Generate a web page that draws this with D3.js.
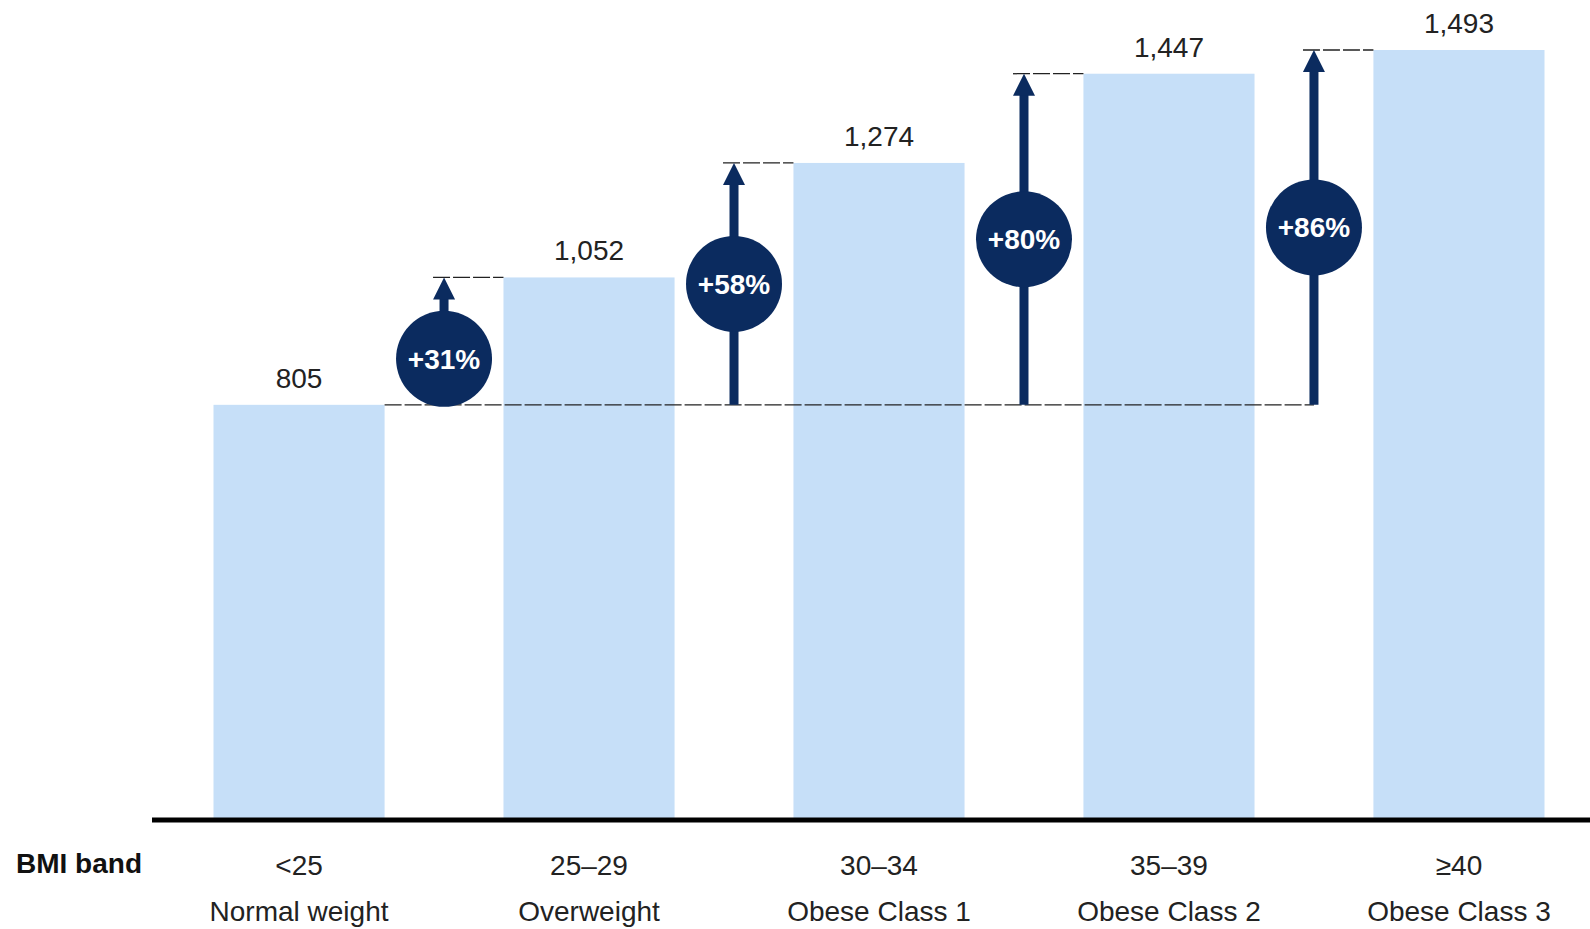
<!DOCTYPE html>
<html>
<head>
<meta charset="utf-8">
<script src="https://cdn.jsdelivr.net/npm/d3@7"></script>
<style>
  body { margin: 0; background: #fff; }
  svg { display: block; font-family: "Liberation Sans", Arial, sans-serif; }
</style>
</head>
<body>
<script>
const width = 1590;
const height = 929;

const bands = ["<25", "25–29", "30–34", "35–39", "≥40"];
const bandNames = ["Normal weight", "Overweight", "Obese Class 1", "Obese Class 2", "Obese Class 3"];
const values = [805, 1052, 1274, 1447, 1493];
const increases = ["+31%", "+58%", "+80%", "+86%"];
const axisTitle = "BMI band";

const barColor = "#c6dff8";
const navy = "#0b2b5f";
const textColor = "#222";

const x = d3.scaleBand().domain(bands).range([213.5, 1544.5]).paddingInner(0.41).paddingOuter(0);
const y = d3.scaleLinear().domain([0, 1493]).range([820, 50]);

const svg = d3.select("body").append("svg")
  .attr("width", width)
  .attr("height", height);

// bars
svg.selectAll("rect.bar")
  .data(values)
  .enter()
  .append("rect")
  .classed("bar", true)
  .attr("x", (d, i) => x(bands[i]))
  .attr("width", x.bandwidth())
  .attr("y", d => y(d))
  .attr("height", d => y(0) - y(d))
  .style("fill", barColor);

// value labels
svg.selectAll("text.val")
  .data(values)
  .enter()
  .append("text")
  .classed("val", true)
  .attr("x", (d, i) => x(bands[i]) + x.bandwidth() / 2)
  .attr("y", d => y(d) - 17)
  .attr("text-anchor", "middle")
  .style("font-size", "28px")
  .style("fill", textColor)
  .text(d => d3.format(",")(d));

// dashed reference lines
const baseY = y(values[0]);
const arrowX = i => (x(bands[i]) + x.bandwidth() + x(bands[i + 1])) / 2;
const headW = 22, headH = 22, r = 48;

svg.append("line")
  .attr("x1", x(bands[0]) + x.bandwidth())
  .attr("x2", arrowX(increases.length - 1))
  .attr("y1", baseY)
  .attr("y2", baseY)
  .style("stroke", "#222")
  .style("stroke-width", 1.3)
  .style("stroke-dasharray", "17,3");

increases.forEach((label, i) => {
  const ax = arrowX(i);
  const topY = y(values[i + 1]);
  const g = svg.append("g").classed("change", true);

  g.append("line")
    .attr("x1", ax - headW / 2)
    .attr("x2", x(bands[i + 1]))
    .attr("y1", topY)
    .attr("y2", topY)
    .style("stroke", "#222")
    .style("stroke-width", 1.3)
    .style("stroke-dasharray", "17,3");

  // shaft
  g.append("line")
    .attr("x1", ax)
    .attr("x2", ax)
    .attr("y1", baseY)
    .attr("y2", topY + headH - 1)
    .style("stroke", navy)
    .style("stroke-width", 9);

  // head
  g.append("path")
    .attr("d", `M${ax},${topY}L${ax + headW / 2},${topY + headH}L${ax - headW / 2},${topY + headH}Z`)
    .style("fill", navy);

  // short arrows: the circle sits on the reference line
  const span = baseY - topY;
  const cy = span < 2 * r + headH + 20 ? baseY - r + 2 : (baseY + topY) / 2;
  g.append("circle")
    .attr("cx", ax)
    .attr("cy", cy)
    .attr("r", r)
    .style("fill", navy);

  g.append("text")
    .attr("x", ax)
    .attr("y", cy + 10)
    .attr("text-anchor", "middle")
    .style("font-size", "28px")
    .style("font-weight", "bold")
    .style("fill", "#fff")
    .text(label);
});

// axis line
svg.append("line")
  .attr("x1", 152)
  .attr("x2", width)
  .attr("y1", y(0))
  .attr("y2", y(0))
  .style("stroke", "#000")
  .style("stroke-width", 5);

// category labels
const labels = svg.append("g").classed("labels", true);
bands.forEach((b, i) => {
  const cx = x(b) + x.bandwidth() / 2;
  labels.append("text")
    .attr("x", cx)
    .attr("y", 875)
    .attr("text-anchor", "middle")
    .style("font-size", "28px")
    .style("fill", textColor)
    .text(b);
  labels.append("text")
    .attr("x", cx)
    .attr("y", 921)
    .attr("text-anchor", "middle")
    .style("font-size", "28px")
    .style("fill", textColor)
    .text(bandNames[i]);
});

svg.append("text")
  .attr("x", 16)
  .attr("y", 873)
  .style("font-size", "28px")
  .style("font-weight", "bold")
  .style("fill", "#111")
  .text(axisTitle);
</script>
</body>
</html>
